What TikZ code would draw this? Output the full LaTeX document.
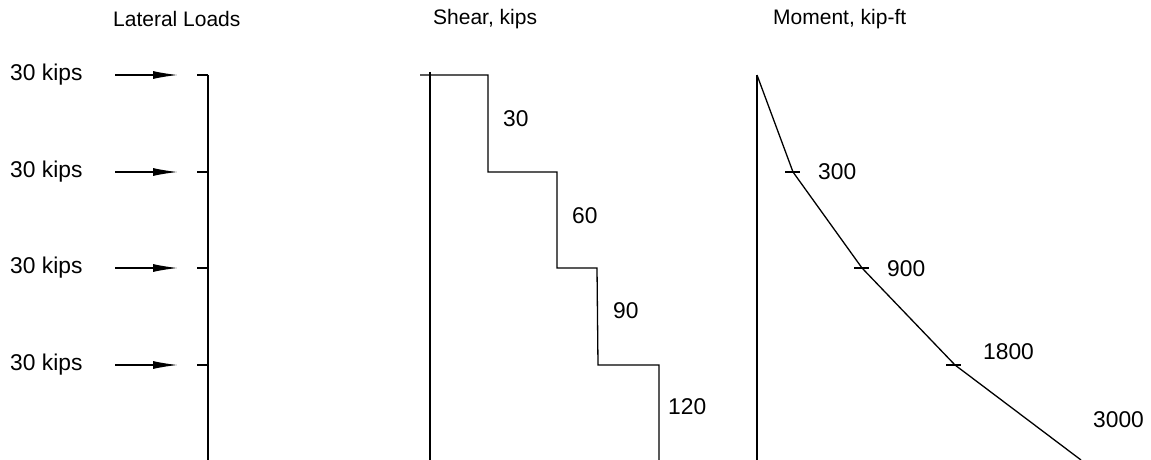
\documentclass[tikz,border=0pt]{standalone}
\usepackage{fontspec}
\setmainfont{Liberation Sans}
\usetikzlibrary{arrows.meta}
\begin{document}
\begin{tikzpicture}[x=1pt,y=-1pt,
  lbl/.style={font=\fontsize{22.8}{24}\selectfont,inner sep=0pt,anchor=west},
  ttl/.style={font=\fontsize{21}{24}\selectfont,inner sep=0pt,anchor=west},
  thin/.style={line width=1.3pt},
  thick/.style={line width=2pt},
  load/.style={line width=1.3pt,-{Latex[length=25pt,width=8pt]}}]
\useasboundingbox (0,0) rectangle (1151,460);
% titles
\node[ttl] (t1) at (113,19) {Lateral Loads};
\node[ttl] (t2) at (433,19) {Shear, kips};
\node[ttl] (t3) at (773,19) {Moment, kip-ft};
% lateral loads
\foreach \i/\y in {1/75,2/172,3/268,4/365}{
  \node[lbl] (k\i) at (10,\y) {30 kips};
  \coordinate (as\i) at (115,\y);
  \coordinate (ae\i) at (178,\y);
  \coordinate (ts\i) at (197,\y);
  \coordinate (te\i) at (208,\y);
  \draw[load] (as\i) -- (ae\i);
  \draw[thin] (ts\i) -- (te\i);
}
\coordinate (colB) at (208,460);
\draw[thin] (te1) -- (colB);
% shear
\coordinate (sTop) at (430,72);
\coordinate (sBot) at (430,460);
\draw[thick] (sTop) -- (sBot);
\coordinate (s0) at (420,75);
\coordinate (s1) at (488,75);
\coordinate (s2) at (488,172);
\coordinate (s3) at (557,172);
\coordinate (s4) at (557,268);
\coordinate (s5) at (597,268);
\coordinate (s6) at (598,365);
\coordinate (s7) at (659,365);
\coordinate (s8) at (659,460);
\draw[thin] (s0) -- (s1) -- (s2) -- (s3) -- (s4) -- (s5) -- (s6) -- (s7) -- (s8);
\node[lbl] (v30) at (503,119) {30};
\node[lbl] (v60) at (572,216) {60};
\node[lbl] (v90) at (613,311) {90};
\node[lbl] (v120) at (668,407) {120};
% moment
\coordinate (m0) at (757,75);
\coordinate (mB) at (757,460);
\draw[thick] (m0) -- (mB);
\coordinate (m1) at (793,172);
\coordinate (m2) at (862,268);
\coordinate (m3) at (955,365);
\coordinate (m4) at (1081,460);
\draw[thin,line join=round] (m0) -- (m1) -- (m2) -- (m3) -- (m4);
\draw[thin] ([xshift=-8]m1) -- ([xshift=7]m1);
\draw[thin] ([xshift=-8]m2) -- ([xshift=7]m2);
\draw[thin] ([xshift=-9]m3) -- ([xshift=6]m3);
\node[lbl] (w300) at (818,172) {300};
\node[lbl] (w900) at (887,269) {900};
\node[lbl] (w1800) at (983,352) {1800};
\node[lbl] (w3000) at (1093,420) {3000};
\end{tikzpicture}
\end{document}
